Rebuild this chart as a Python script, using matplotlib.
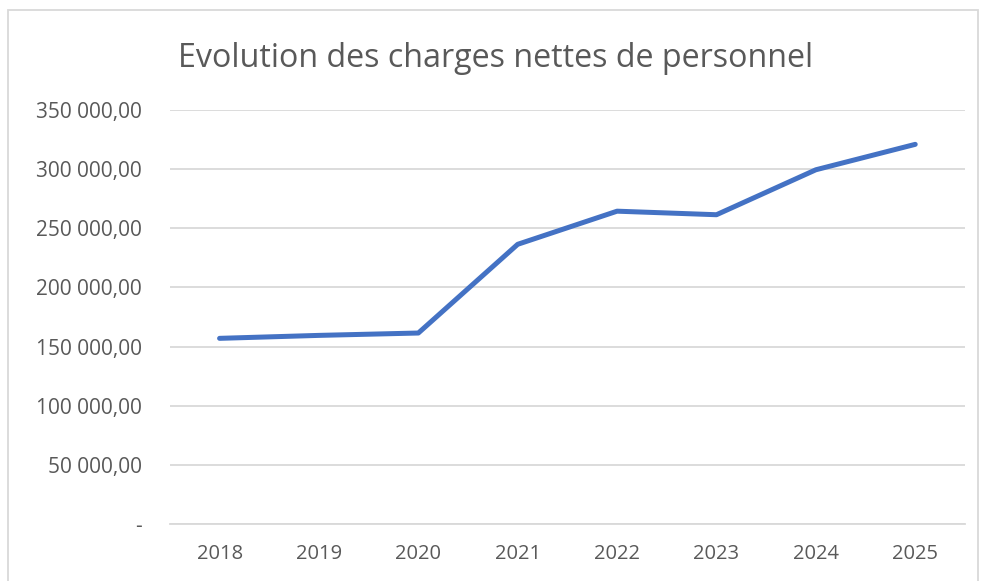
import matplotlib
matplotlib.use("Agg")
import matplotlib.pyplot as plt
from matplotlib.ticker import FuncFormatter, MultipleLocator
from matplotlib.patches import Rectangle

# data
years = ["2018", "2019", "2020", "2021", "2022", "2023", "2024", "2025"]
charges = [157000, 159500, 161500, 236500, 264500, 261500, 299500, 321000]

plt.rcParams['font.family'] = ['Open Sans', 'DejaVu Sans']

fig = plt.figure(figsize=(9.82, 5.81), dpi=100)
ax = fig.add_axes([0.173, 0.098, 0.8096, 0.7126])

ax.plot(range(len(years)), charges, color='#4472C4', linewidth=3.6,
        solid_capstyle='round', solid_joinstyle='round', zorder=3)

ax.set_xlim(-0.5, len(years) - 0.5)
ax.set_ylim(0, 350000)
ax.yaxis.set_major_locator(MultipleLocator(50000))

def fmt(v, pos):
    if v == 0:
        return '-'
    return '{:,.2f}'.format(v).replace(',', ' ').replace('.', ',')

ax.yaxis.set_major_formatter(FuncFormatter(fmt))
ax.set_xticks(range(len(years)))
ax.set_xticklabels(years)

ax.grid(axis='y', color='#D9D9D9', linewidth=1.3)
ax.set_axisbelow(True)
for s in ['left', 'right', 'top']:
    ax.spines[s].set_visible(False)
ax.spines['bottom'].set_color('#D9D9D9')
ax.spines['bottom'].set_linewidth(1.3)
ax.tick_params(length=0, labelsize=14.5, colors='#595959')
ax.tick_params(axis='y', labelsize=15, pad=20)
ax.tick_params(axis='x', pad=14)

fig.text(0.505, 0.899, 'Evolution des charges nettes de personnel',
         ha='center', va='center', fontsize=23.2, color='#595959')

# chart border
fig.patches.append(Rectangle((8 / 982, -0.05), 970 / 982, 1.05 - 10 / 581,
                             transform=fig.transFigure, fill=False,
                             edgecolor='#D9D9D9', linewidth=1.3))

fig.savefig('out.png', dpi=100)
